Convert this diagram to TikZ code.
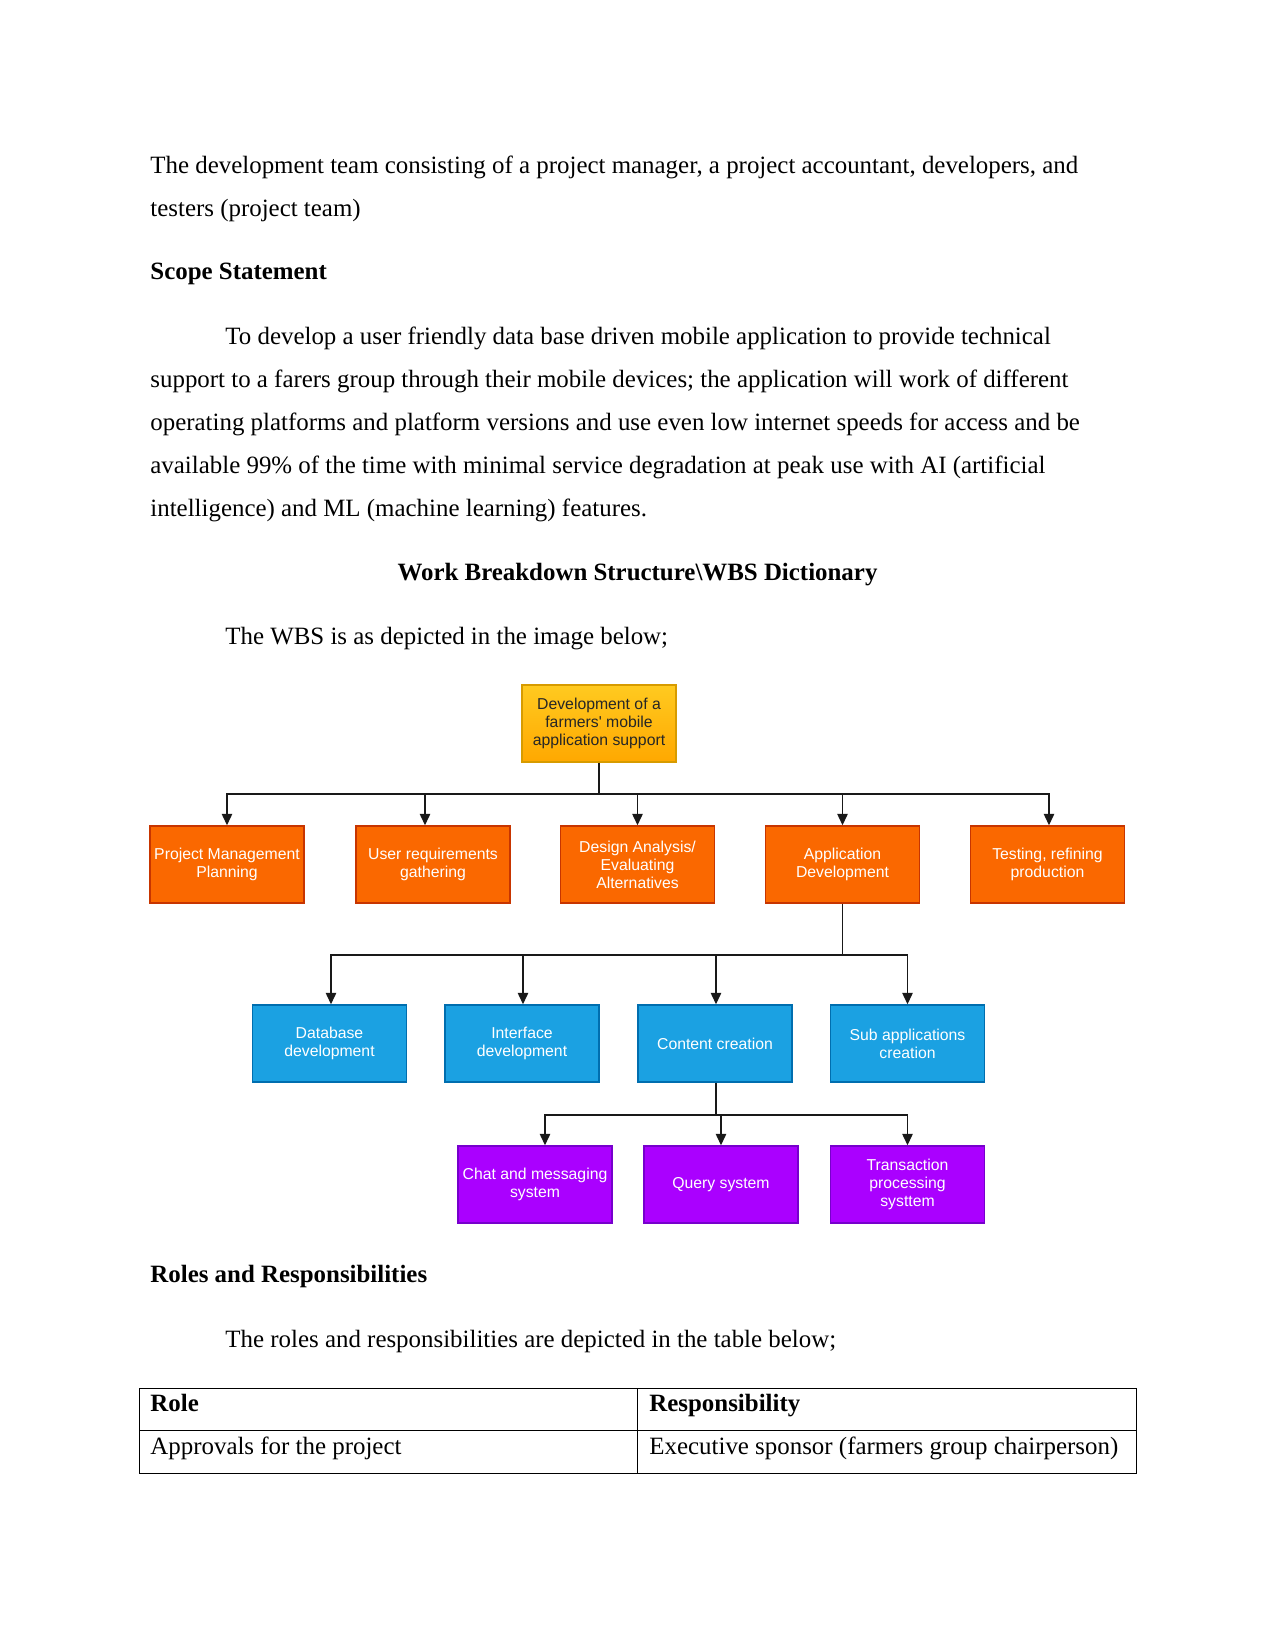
\documentclass[tikz,border=0pt]{standalone}
\usepackage{fontspec}
\setmainfont{Liberation Serif}
\newfontfamily\boxfont{Liberation Sans}
\usetikzlibrary{arrows.meta,calc}
\definecolor{rootA}{HTML}{FFCA20}
\definecolor{rootB}{HTML}{FFA800}
\definecolor{rootD}{HTML}{D79B00}
\definecolor{orgF}{HTML}{FA6800}
\definecolor{orgD}{HTML}{C73500}
\definecolor{bluF}{HTML}{1BA1E2}
\definecolor{bluD}{HTML}{006EAF}
\definecolor{purF}{HTML}{AA00FF}
\definecolor{purD}{HTML}{7700CC}
\tikzset{
  txt/.style={anchor=base west,inner sep=0pt,font=\fontsize{12}{14}\selectfont},
  btxt/.style={txt,font=\fontsize{12}{14}\selectfont\bfseries},
  wbs/.style={rectangle,minimum width=74.2pt,minimum height=37.1pt,inner sep=0pt,align=center,
     font=\boxfont\fontsize{7.6}{8.7}\selectfont,line width=0.7pt},
  rootbox/.style={wbs,top color=rootA,bottom color=rootB,draw=rootD,text=black!85},
  orgbox/.style={wbs,fill=orgF,draw=orgD,text=white},
  blubox/.style={wbs,fill=bluF,draw=bluD,text=white},
  purbox/.style={wbs,fill=purF,draw=purD,text=white},
  conn/.style={line width=0.7pt,black!90},
  arr/.style={conn,-{Triangle[length=5.5pt,width=5pt]}},
  rule/.style={line width=0.45pt},
}
\begin{document}
\begin{tikzpicture}[x=0.48181pt,y=-0.48181pt]
\useasboundingbox[fill=white] (0,0) rectangle (1275,1651);

\node[txt] (t1) at (150,173) {The development team consisting of a project manager, a project accountant, developers, and};
\node[txt] (t2) at (150,216) {testers (project team)};
\node[btxt] (t3) at (150,279) {Scope Statement};
\node[txt] (p1) at (225,344) {To develop a user friendly data base driven mobile application to provide technical};
\node[txt] (p2) at (150,387) {support to a farers group through their mobile devices; the application will work of different};
\node[txt] (p3) at (150,430) {operating platforms and platform versions and use even low internet speeds for access and be};
\node[txt] (p4) at (150,473) {available 99\% of the time with minimal service degradation at peak use with AI (artificial};
\node[txt] (p5) at (150,516) {intelligence) and ML (machine learning) features.};
\node[btxt,anchor=base] (t4) at (637.5,580) {Work Breakdown Structure\textbackslash WBS Dictionary};
\node[txt] (t5) at (225,644) {The WBS is as depicted in the image below;};

% WBS
\node[rootbox] (root) at (599,723.5) {Development of a\\farmers' mobile\\application support};
\node[orgbox] (pmp) at (227,864.5) {Project Management\\Planning};
\node[orgbox] (ur) at (433,864.5) {User requirements\\gathering};
\node[orgbox] (da) at (637.5,864.5) {Design Analysis/\\Evaluating\\Alternatives};
\node[orgbox] (ad) at (842.5,864.5) {Application\\Development};
\node[orgbox] (tr) at (1047.5,864.5) {Testing, refining\\production};

\node[blubox] (db) at (329.5,1043.5) {Database\\development};
\node[blubox] (id) at (522,1043.5) {Interface\\development};
\node[blubox] (cc) at (715,1043.5) {Content creation};
\node[blubox] (sa) at (907.5,1043.5) {Sub applications\\creation};

\node[purbox] (cm) at (535,1184.5) {Chat and messaging\\system};
\node[purbox] (qs) at (721,1184.5) {Query system};
\node[purbox] (tp) at (907.5,1184.5) {Transaction\\processing\\systtem};

\coordinate (b1) at (599,794);
\draw[conn] (root.south) -- (b1);
\draw[arr] (b1) -| (pmp.north);
\draw[arr] (b1) -| ($(ur.north)+(-8,0)$);
\draw[arr] (b1) -| (da.north);
\draw[arr] (b1) -| (ad.north);
\draw[arr] (b1) -| ($(tr.north)+(1.5,0)$);

\coordinate (b2) at (842.5,955);
\draw[conn] (ad.south) -- (b2);
\draw[arr] (b2) -| ($(db.north)+(1.5,0)$);
\draw[arr] (b2) -| ($(id.north)+(1,0)$);
\draw[arr] (b2) -| ($(cc.north)+(1,0)$);
\draw[arr] (b2) -| (sa.north);

\coordinate (b3) at (716,1115);
\draw[conn] ($(cc.south)+(1,0)$) -- (b3);
\draw[arr] (b3) -| ($(cm.north)+(10,0)$);
\draw[arr] (b3) -| (qs.north);
\draw[arr] (b3) -| (tp.north);

\node[btxt] (t6) at (150,1282.5) {Roles and Responsibilities};
\node[txt] (t7) at (225,1347) {The roles and responsibilities are depicted in the table below;};

% table
\draw[rule] (139,1388) rectangle (1136,1473);
\draw[rule] (139,1430) -- (1136,1430);
\draw[rule] (637,1388) -- (637,1473);
\node[btxt] (h1) at (150,1411) {Role};
\node[btxt] (h2) at (649,1411) {Responsibility};
\node[txt] (c1) at (150,1454) {Approvals for the project};
\node[txt] (c2) at (649,1454) {Executive sponsor (farmers group chairperson)};
\end{tikzpicture}
\end{document}
